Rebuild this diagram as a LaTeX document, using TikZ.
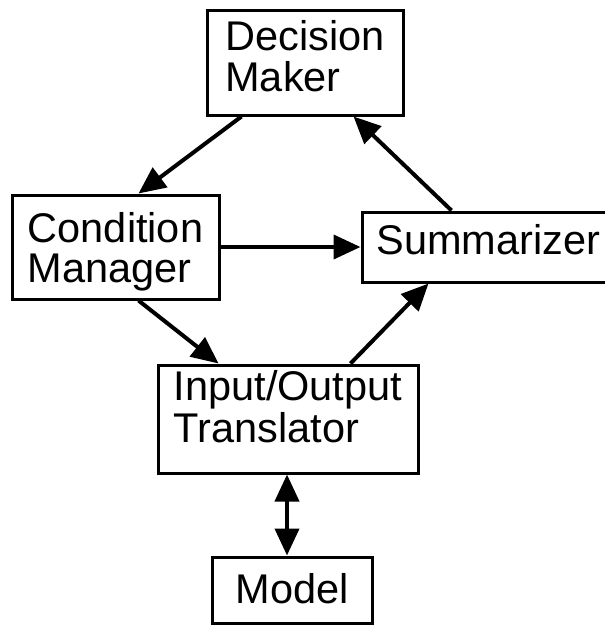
\documentclass[tikz,border=0pt]{standalone}
\usepackage{fontspec}
\setmainfont{Liberation Sans}
\usetikzlibrary{arrows.meta,calc}
% box text: left-aligned lines, lifted by #1 without changing the box size
\newcommand\boxtext[2]{\raisebox{#1}[\height][\depth]{\begin{tabular}{@{}l@{}}#2\end{tabular}}}
\begin{document}
\begin{tikzpicture}[x=1pt,y=-1pt,
  block/.style={draw, line width=3pt, rectangle, inner sep=0pt,
    font=\fontsize{41.5}{37}\selectfont},
  flow/.style={line width=4pt, -{Triangle[length=27pt,width=24pt]}},
  twoway/.style={line width=4pt, {Triangle[length=27pt,width=24pt]}-{Triangle[length=27pt,width=24pt]}}]
  \clip (0,0) rectangle (605,625);
  \fill[white] (0,0) rectangle (605,625);

  % boxes
  \node[block, minimum width=196pt, minimum height=105pt] (dm)   at (305,62.5) {\boxtext{1pt}{Decision\\Maker}};
  \node[block, minimum width=207pt, minimum height=104pt] (cm)   at (115.5,247) {\boxtext{-6pt}{Condition\\Manager}};
  \node[block, minimum width=253pt, minimum height=70pt]  (summ) at (488.5,247) {\boxtext{2pt}{Summarizer}};
  \node[block, minimum width=260pt, minimum height=108pt] (iot)  at (288,419) {\boxtext{7pt}{Input/Output\\Translator}};
  \node[block, minimum width=160pt, minimum height=66pt]  (model) at (292,590) {\boxtext{-4pt}{Model}};

  % connectors
  \draw[flow] ($(dm.south west)+(36,0)$) -- ($(cm.north west)+(128,0)$);
  \draw[flow] (cm.east) -- (summ.west);
  \draw[flow] ($(cm.south west)+(128,0)$) -- ($(iot.north west)+(62,0)$);
  \draw[flow] ($(iot.north west)+(194,0)$) -- ($(summ.south west)+(68,0)$);
  \draw[flow] ($(summ.north west)+(91,0)$) -- ($(dm.south west)+(148,0)$);
  \draw[twoway] ($(iot.south)+(-1,0)$) -- ($(model.north)+(-5,0)$);
\end{tikzpicture}
\end{document}
